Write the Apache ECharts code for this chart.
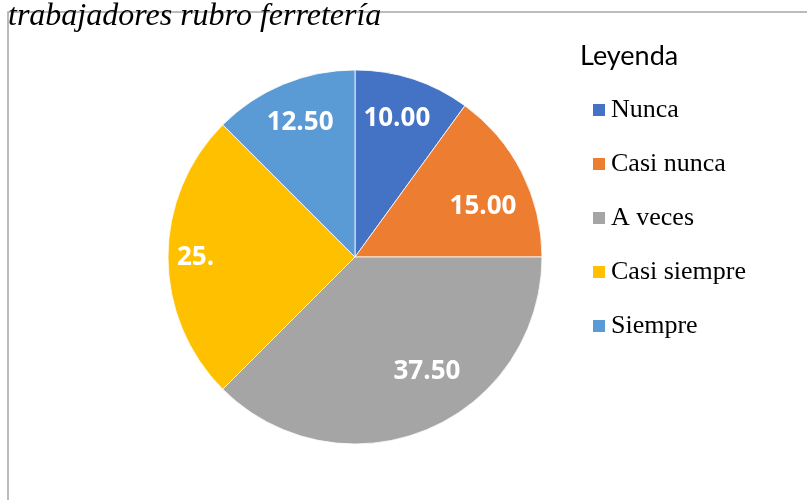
<!DOCTYPE html>
<html>
<head>
<meta charset="utf-8">
<style>
  html, body { margin: 0; padding: 0; background: #fff; }
  #chart { width: 807px; height: 500px; }
</style>
<script src="https://cdn.jsdelivr.net/npm/echarts@6/dist/echarts.min.js"></script>
</head>
<body>
<div id="chart"></div>
<script>
(function() {
  var categories = ['Nunca', 'Casi nunca', 'A veces', 'Casi siempre', 'Siempre'];
  var values = [10, 15, 37.5, 25, 12.5];
  // the label of the yellow slice is cut short in the original
  var labelTexts = ['10.00', '15.00', '37.50', '25.', '12.50'];
  var colors = ['#4472C4', '#ED7D31', '#A5A5A5', '#FFC000', '#5B9BD5'];

  // nudges from the default inside spot towards where the labels sit
  var labelOffsets = [[12, -47], [42, -7], [35, 25], [-63, 1], [-18, -45]];

  var chart = echarts.init(document.getElementById('chart'), null, { renderer: 'canvas' });

  var data = categories.map(function(name, i) {
    return {
      name: name,
      value: values[i],
      itemStyle: { color: colors[i] },
      label: { offset: labelOffsets[i] }
    };
  });

  var option = {
    animation: false,
    backgroundColor: '#ffffff',
    graphic: [{
      type: 'rect',
      z: 0,
      shape: { x: 8, y: 12, width: 900, height: 600 },
      style: { fill: 'none', stroke: '#a6a6a6', lineWidth: 1.5 }
    }],
    title: [{
      text: 'trabajadores rubro ferretería',
      left: 8,
      top: 1,
      padding: 0,
      textStyle: {
        fontFamily: 'Liberation Serif',
        fontStyle: 'italic',
        fontWeight: 'normal',
        fontSize: 32,
        color: '#000'
      }
    }, {
      text: 'Leyenda',
      left: 580,
      top: 43,
      padding: 0,
      textStyle: {
        fontFamily: 'Lato',
        fontWeight: 'normal',
        fontSize: 27,
        color: '#000'
      }
    }],
    legend: {
      orient: 'vertical',
      left: 591,
      top: 97,
      padding: 0,
      itemWidth: 14,
      itemHeight: 14,
      itemGap: 28,
      icon: 'rect',
      selectedMode: false,
      data: categories,
      textStyle: {
        fontFamily: 'Liberation Serif',
        fontSize: 26,
        lineHeight: 26,
        color: '#000'
      }
    },
    series: [{
      type: 'pie',
      center: [355, 257],
      radius: 187,
      startAngle: 90,
      clockwise: true,
      silent: true,
      itemStyle: { borderColor: '#ffffff', borderWidth: 0.8 },
      label: {
        show: true,
        position: 'inside',
        color: '#ffffff',
        fontFamily: 'Open Sans',
        fontWeight: 'bold',
        fontSize: 26,
        formatter: function(p) { return labelTexts[p.dataIndex]; }
      },
      labelLine: { show: false },
      data: data
    }]
  };

  chart.setOption(option);
  window.addEventListener('resize', function() { chart.resize(); });
})();
</script>
</body>
</html>
